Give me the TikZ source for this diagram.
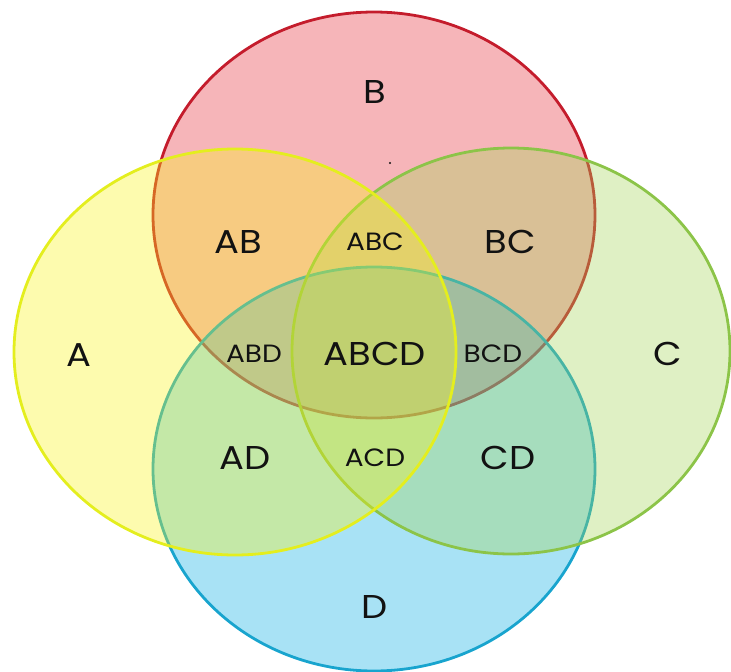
\documentclass[tikz,border=0pt]{standalone}
\usepackage{fontspec}
\setmainfont[FakeStretch=1.12]{Poppins}
\usepackage{tikz}

\definecolor{setA}{RGB}{249,244,24}
\definecolor{setB}{RGB}{229,44,55}
\definecolor{setC}{RGB}{164,212,86}
\definecolor{setD}{RGB}{6,172,226}
\definecolor{edgeA}{RGB}{228,238,30}
\definecolor{edgeB}{RGB}{196,28,44}
\definecolor{edgeC}{RGB}{140,196,72}
\definecolor{edgeD}{RGB}{24,164,206}
\definecolor{ink}{RGB}{18,18,18}

\begin{document}
\begin{tikzpicture}[x=1pt,y=-1pt,
    set/.style={line width=2.8pt, fill opacity=0.35},
    big/.style={font=\fontsize{33}{33}\selectfont, text=ink},
    small/.style={font=\fontsize{25}{25}\selectfont, text=ink}]
\useasboundingbox (0,0) rectangle (731,672);

% the four sets, bottom to top
\filldraw[set, draw=edgeB, fill=setB] (374,215) ellipse [x radius=221, y radius=203];
\filldraw[set, draw=edgeD, fill=setD] (374,469) ellipse [x radius=221, y radius=202];
\filldraw[set, draw=edgeC, fill=setC] (511,351) ellipse [x radius=219, y radius=203];
\filldraw[set, draw=edgeA, fill=setA] (235,352) ellipse [x radius=221, y radius=203];
\fill[ink] (390,163) circle (1.2);

% single sets
\node[big] (lA) at (79,355) {A};
\node[big] (lB) at (375,92) {B};
\node[big] (lC) at (668,354) {C};
\node[big] (lD) at (375,607) {D};

% overlaps
\node[big] (lAB) at (238,242) {AB};
\node[small] (lABC) at (375,242) {ABC};
\node[big] (lBC) at (510,242) {BC};
\node[small] (lABD) at (254,354) {ABD};
\node[big] (lABCD) at (375,354) {ABCD};
\node[small] (lBCD) at (493,354) {BCD};
\node[big] (lAD) at (245,458) {AD};
\node[small] (lACD) at (375,458) {ACD};
\node[big] (lCD) at (508,458) {CD};
\end{tikzpicture}
\end{document}
